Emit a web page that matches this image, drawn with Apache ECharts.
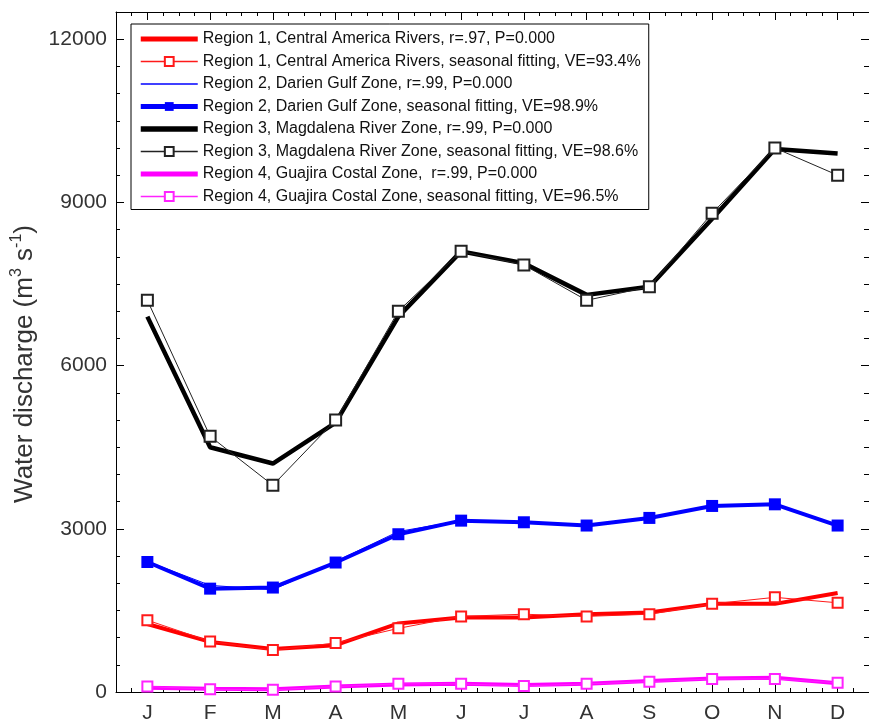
<!DOCTYPE html>
<html>
<head>
<meta charset="utf-8">
<script src="https://cdn.jsdelivr.net/npm/echarts@6/dist/echarts.min.js"></script>
<style>
  html, body { margin: 0; padding: 0; background: #fff; }
  #chart { width: 869px; height: 725px; }
</style>
</head>
<body>
<div id="chart"></div>
<script>
// Months (unique category keys) and the single-letter tick labels drawn under them
const months = ['Jan', 'Feb', 'Mar', 'Apr', 'May', 'Jun', 'Jul', 'Aug', 'Sep', 'Oct', 'Nov', 'Dec'];
const monthLabels = ['J', 'F', 'M', 'A', 'M', 'J', 'J', 'A', 'S', 'O', 'N', 'D'];

// Mean monthly water discharge (m3/s): observed climatology and seasonal fit per region
const r1Obs = [1250, 920, 790, 860, 1260, 1370, 1370, 1430, 1460, 1620, 1620, 1820];
const r1Fit = [1320, 930, 770, 900, 1170, 1390, 1430, 1390, 1430, 1620, 1740, 1640];
const r2Obs = [2400, 1960, 1880, 2400, 2950, 3150, 3120, 3060, 3200, 3420, 3450, 3060];
const r2Fit = [2390, 1900, 1920, 2380, 2900, 3150, 3120, 3060, 3200, 3420, 3450, 3060];
const r3Obs = [6900, 4500, 4200, 4950, 6900, 8100, 7880, 7300, 7450, 8700, 9980, 9900];
const r3Fit = [7200, 4700, 3800, 5000, 7000, 8100, 7850, 7200, 7450, 8800, 10000, 9500];
const r4Obs = [80, 60, 50, 100, 140, 150, 130, 150, 200, 250, 260, 160];
const r4Fit = [100, 50, 40, 100, 150, 150, 110, 150, 190, 240, 240, 170];

const seriesNames = [
  'Region 1, Central America Rivers, r=.97, P=0.000',
  'Region 1, Central America Rivers, seasonal fitting, VE=93.4%',
  'Region 2, Darien Gulf Zone, r=.99, P=0.000',
  'Region 2, Darien Gulf Zone, seasonal fitting, VE=98.9%',
  'Region 3, Magdalena River Zone, r=.99, P=0.000',
  'Region 3, Magdalena River Zone, seasonal fitting, VE=98.6%',
  'Region 4, Guajira Costal Zone,  r=.99, P=0.000',
  'Region 4, Guajira Costal Zone, seasonal fitting, VE=96.5%'
];

const FONT = '"Liberation Sans", Arial, sans-serif';

// line style per series: colour, width, marker
const styles = [
  { data: r1Obs, color: '#ff0000', width: 4,   symbol: 'none' },
  { data: r1Fit, color: '#ff1a1a', width: 1,   symbol: 'emptyRect', size: 10 },
  { data: r2Obs, color: '#0000ff', width: 1,   symbol: 'none' },
  { data: r2Fit, color: '#0000ff', width: 4,   symbol: 'rect', size: 12 },
  { data: r3Obs, color: '#000000', width: 4.5, symbol: 'none' },
  { data: r3Fit, color: '#222222', width: 1,   symbol: 'emptyRect', size: 11 },
  { data: r4Obs, color: '#ff00ff', width: 4,   symbol: 'none' },
  { data: r4Fit, color: '#ff22ff', width: 1,   symbol: 'emptyRect', size: 10 }
];

const series = styles.map((s, i) => ({
  name: seriesNames[i],
  type: 'line',
  xAxisIndex: 0,
  yAxisIndex: 0,
  data: s.data,
  symbol: s.symbol,
  symbolSize: s.size || 0,
  showSymbol: s.symbol !== 'none',
  color: s.color,
  lineStyle: { color: s.color, width: s.width },
  itemStyle: { color: s.color, borderWidth: 1.5 },
  emphasis: { disabled: true },
  z: 2 + i
}));

// legend entries: plain lines for the observed series, line + marker for the fits
const legendData = styles.map((s, i) => {
  const item = { name: seriesNames[i], lineStyle: { color: s.color, width: s.width + (s.width > 2 ? 1 : 0.3) } };
  if (s.symbol === 'none') item.itemStyle = { opacity: 0 };
  return item;
});

const frameLine = { show: true, onZero: false, lineStyle: { color: '#000', width: 1 } };
const noSplit = { show: false };

const option = {
  animation: false,
  backgroundColor: '#fff',
  textStyle: { fontFamily: FONT },
  grid: { left: 116, top: 12, width: 759, height: 680 },
  legend: {
    orient: 'vertical',
    left: 131,
    top: 24,
    itemWidth: 57,
    itemHeight: 11,
    itemGap: 6.5,
    itemGap: 6.5,
    padding: [7, 8, 5, 7],
    borderColor: '#000',
    borderWidth: 1,
    backgroundColor: '#fff',
    selectedMode: false,
    textStyle: { fontFamily: FONT, fontSize: 16, color: '#111' },
    data: legendData
  },
  xAxis: [
    {
      type: 'category', position: 'bottom', data: months, boundaryGap: true,
      axisLine: frameLine,
      axisTick: { show: true, inside: true, alignWithLabel: true, interval: 0, length: 8, lineStyle: { color: '#000' } },
      axisLabel: { interval: 0, formatter: (v, i) => monthLabels[i], fontFamily: FONT, fontSize: 21, color: '#333', margin: 11 },
      splitLine: noSplit
    },
    {
      type: 'category', position: 'top', data: months, boundaryGap: true,
      axisLine: frameLine,
      axisTick: { show: true, inside: true, alignWithLabel: true, interval: 0, length: 8, lineStyle: { color: '#000' } },
      axisLabel: { show: false },
      splitLine: noSplit
    },
    // quarter-month minor ticks, bottom and top
    {
      type: 'value', position: 'bottom', min: 0, max: 48, interval: 1,
      axisLine: { show: false, onZero: false },
      axisTick: { show: true, inside: true, length: 4, lineStyle: { color: '#000' } },
      axisLabel: { show: false }, splitLine: noSplit
    },
    {
      type: 'value', position: 'top', min: 0, max: 48, interval: 1,
      axisLine: { show: false, onZero: false },
      axisTick: { show: true, inside: true, length: 4, lineStyle: { color: '#000' } },
      axisLabel: { show: false }, splitLine: noSplit
    }
  ],
  yAxis: [
    {
      type: 'value', position: 'left', min: 0, max: 12500, interval: 3000,
      name: '{n|Water discharge (m}{s|3}{n| s}{s|-1}{n|)}',
      nameLocation: 'middle', nameRotate: 90, nameGap: 67,
      nameTextStyle: {
        padding: [0, 24, 0, 0],
        rich: {
          n: { fontFamily: FONT, fontSize: 26, color: '#333', lineHeight: 32, verticalAlign: 'middle' },
          s: { fontFamily: FONT, fontSize: 16, color: '#333', lineHeight: 32, verticalAlign: 'top' }
        }
      },
      axisLine: frameLine,
      axisTick: { show: true, inside: true, length: 8, lineStyle: { color: '#000' } },
      axisLabel: { fontFamily: FONT, fontSize: 21, color: '#333', margin: 9, showMaxLabel: false, formatter: v => String(v) },
      splitLine: noSplit
    },
    {
      type: 'value', position: 'left', min: 0, max: 12500, interval: 500,
      axisLine: { show: false, onZero: false },
      axisTick: { show: true, inside: true, length: 4, lineStyle: { color: '#000' } },
      axisLabel: { show: false }, splitLine: noSplit
    },
    {
      type: 'value', position: 'right', min: 0, max: 12500, interval: 3000,
      axisLine: frameLine,
      axisTick: { show: true, inside: true, length: 8, lineStyle: { color: '#000' } },
      axisLabel: { show: false }, splitLine: noSplit
    },
    {
      type: 'value', position: 'right', min: 0, max: 12500, interval: 500,
      axisLine: { show: false, onZero: false },
      axisTick: { show: true, inside: true, length: 5, lineStyle: { color: '#000' } },
      axisLabel: { show: false }, splitLine: noSplit
    }
  ],
  series: series
};

const chart = echarts.init(document.getElementById('chart'), null, { renderer: 'canvas' });
chart.setOption(option);
</script>
</body>
</html>
